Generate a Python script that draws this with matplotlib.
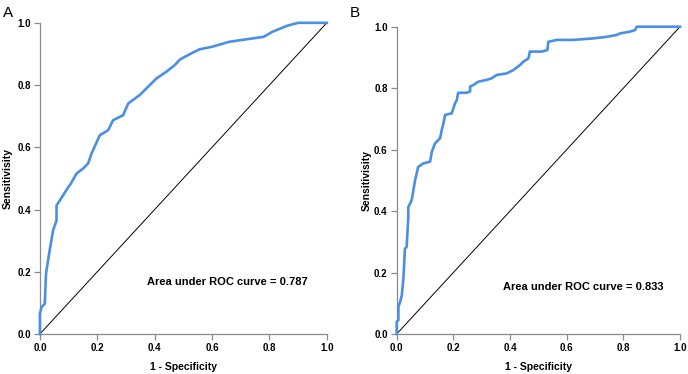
import matplotlib
matplotlib.use("Agg")
import matplotlib.pyplot as plt

# panel A: (1 - specificity, sensitivity)
fpr_a = [0.0, 0.0, 0.006, 0.017, 0.021, 0.023, 0.035, 0.046, 0.058, 0.058, 0.07,
         0.099, 0.105, 0.128, 0.151, 0.168, 0.18, 0.209, 0.238, 0.255, 0.29,
         0.308, 0.348, 0.383, 0.406, 0.441, 0.47, 0.488, 0.528, 0.557, 0.60,
         0.66, 0.72, 0.78, 0.81, 0.86, 0.90, 1.0]
tpr_a = [0.0, 0.065, 0.087, 0.097, 0.188, 0.205, 0.274, 0.333, 0.365, 0.413, 0.43,
         0.472, 0.479, 0.516, 0.532, 0.548, 0.58, 0.639, 0.655, 0.687, 0.703,
         0.741, 0.768, 0.80, 0.821, 0.843, 0.864, 0.882, 0.902, 0.915, 0.923,
         0.939, 0.947, 0.955, 0.971, 0.99, 1.0, 1.0]

# panel B
fpr_b = [0.0, 0.0, 0.006, 0.006, 0.012, 0.018, 0.024, 0.029, 0.035, 0.041, 0.041,
         0.053, 0.065, 0.076, 0.094, 0.118, 0.124, 0.135, 0.153, 0.159,
         0.165, 0.171, 0.194, 0.206, 0.212, 0.217, 0.247, 0.259, 0.259,
         0.27, 0.288, 0.318, 0.335, 0.353, 0.388, 0.412, 0.435, 0.447, 0.465,
         0.47, 0.512, 0.532, 0.535, 0.565, 0.623, 0.694, 0.741, 0.776, 0.788,
         0.823, 0.841, 0.847, 1.0]
tpr_b = [0.0, 0.04, 0.045, 0.088, 0.104, 0.126, 0.185, 0.278, 0.283, 0.381, 0.413,
         0.436, 0.501, 0.544, 0.555, 0.561, 0.593, 0.62, 0.637, 0.664,
         0.686, 0.713, 0.718, 0.751, 0.761, 0.785, 0.785, 0.789, 0.805,
         0.81, 0.821, 0.827, 0.832, 0.843, 0.848, 0.859, 0.875, 0.886, 0.897,
         0.919, 0.919, 0.924, 0.951, 0.957, 0.957, 0.962, 0.967, 0.973, 0.978,
         0.984, 0.989, 1.0, 1.0]

auc_a = 0.787
auc_b = 0.833
ticks = [0.0, 0.2, 0.4, 0.6, 0.8, 1.0]

plt.rcParams['font.family'] = ['Liberation Sans', 'DejaVu Sans']

fig = plt.figure(figsize=(6.88, 3.74), dpi=100)
ax_a = fig.add_axes([0.058, 0.107, 0.417, 0.832])
ax_b = fig.add_axes([0.5766, 0.107, 0.4118, 0.8216])


def draw_panel(ax, fpr, tpr, auc, tx, ty, ylx, xly):
    ax.plot([0, 1], [0, 1], color='black', lw=0.7, clip_on=False)
    ax.plot(fpr, tpr, color='#4a8fe6', lw=1.9, clip_on=False, zorder=3)
    ax.set_xlim(0, 1)
    ax.set_ylim(0, 1)
    for s in ['top', 'right']:
        ax.spines[s].set_visible(False)
    for s in ['left', 'bottom']:
        ax.spines[s].set_color('#8a8a8a')
        ax.spines[s].set_linewidth(0.9)
    ax.set_xticks(ticks)
    ax.set_yticks(ticks)
    ax.set_xticklabels(['%.1f' % t for t in ticks], fontweight='bold', fontsize=7)
    ax.set_yticklabels(['%.1f' % t for t in ticks], fontweight='bold', fontsize=7)
    ax.tick_params(direction='out', length=4.5, width=0.9, color='#8a8a8a', pad=2)
    ax.set_xlabel('1 - Specificity', fontweight='bold', fontsize=7.5, va='center')
    ax.set_ylabel('Sensitivisity', fontweight='bold', fontsize=7.5, va='center')
    ax.xaxis.set_label_coords(0.5, xly)
    ax.yaxis.set_label_coords(ylx, 0.5)
    ax.text(tx, ty, 'Area under ROC curve = %.3f' % auc, fontweight='bold',
            fontsize=8, ha='left', va='center', transform=ax.transAxes)


draw_panel(ax_a, fpr_a, tpr_a, auc_a, 0.373, 0.167, -0.111, -0.106)
draw_panel(ax_b, fpr_b, tpr_b, auc_b, 0.375, 0.153, -0.105, -0.107)

fig.text(0.004, 0.985, 'A', fontsize=11, va='top', ha='left')
fig.text(0.509, 0.985, 'B', fontsize=11, va='top', ha='left')

fig.savefig('out.png', dpi=100)
